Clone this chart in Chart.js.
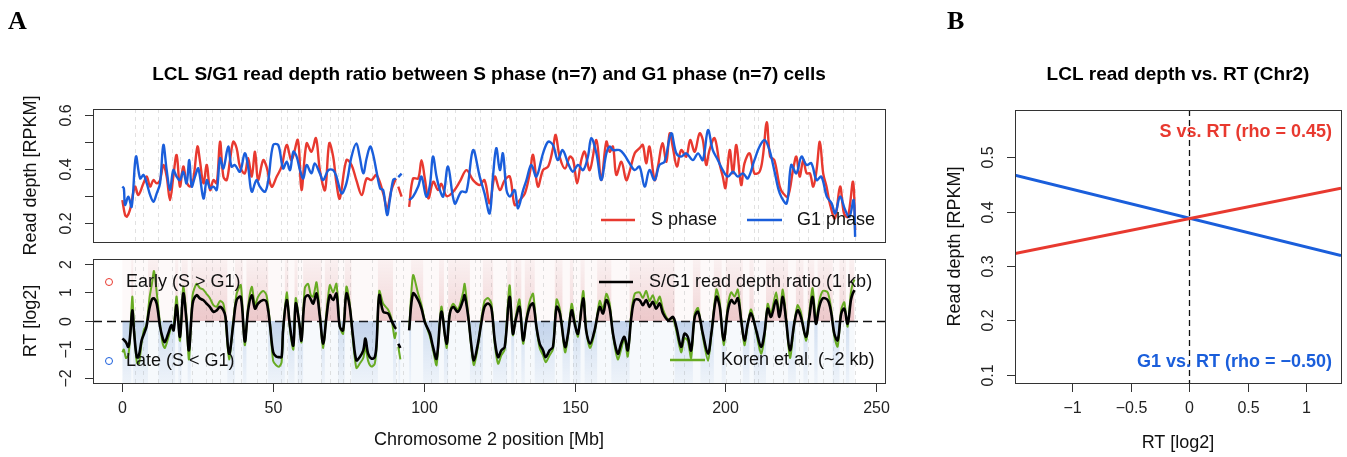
<!DOCTYPE html>
<html>
<head>
<meta charset="utf-8">
<script src="https://cdn.jsdelivr.net/npm/chart.js@4/dist/chart.umd.min.js"></script>
<style>
  body { margin: 0; background: #fff; }
  #wrap { position: relative; width: 1347px; height: 457px; }
  #wrap canvas { position: absolute; left: 0; top: 0; }
</style>
</head>
<body>
<div id="wrap">
  <canvas id="depth-chart" width="1347" height="457"></canvas>
  <canvas id="rt-chart" width="1347" height="457"></canvas>
  <canvas id="corr-chart" width="1347" height="457"></canvas>
</div>
<script>
// ---------- Panel A (top): read depth along chr2, position in Mb ----------
const sPos = [
  0, 0.9, 1.5, 2.5, 4.2, 5.3, 7, 8.1, 9.2, 10.3,
  11.4, 12.5, 13.6, 14.7, 15.8, 16.9, 18, 19.1, 20.2, 21.3,
  22.4, 23.5, 24.9, 25.7, 26.9, 28, 29.1, 30.2, 31.3, 32.4,
  33.5, 34.6, 35.7, 36.8, 37.9, 39, 40.6, 41.7, 42.9, 44,
  45, 46.7, 47.8, 49.5, 51.2, 52.8, 54.5, 56.1, 58.2, 59.4,
  61.1, 62.7, 64.2, 65.5, 67.2, 68.6, 69.9, 71, 72.1, 74.3,
  76, 77.6, 79.4, 81, 82.6, 84.3, 86.5, 87.8, 89.2, 90.7,
  91.1, 91.5, 92.6, 93.5, 95.1, 96.4, 98.1, 99.2, 100.3, 101.5,
  103.1, 104.7, 105.8, 107.5, 109.7, 111.9, 114.1, 116.3, 118.5, 120.1,
  121.8, 123.5, 125.2, 126.8, 128.5, 130.1, 131.8, 133.5, 135.1, 136.2,
  137.8, 139.5, 141.2, 142.8, 143.7, 145, 146.8, 148.4, 149.5, 150.8,
  152.2, 153.3, 155, 157.2, 158.8, 160.5, 161.6, 162.7, 163.8, 165.5,
  167.1, 168.2, 169.9, 171.5, 172.6, 173.7, 174.8, 176.5, 177.6, 179.1,
  180.4, 181.5, 182.6, 183.9, 185.3, 187, 188.3, 189.8, 191.4, 192.5,
  193.6, 194.7, 196.4, 198, 199.1, 200, 201.4, 202.5, 203.6, 205.2,
  206.3, 208, 209.6, 211.3, 212.4, 213.7, 214.8, 216.2, 218, 219.1,
  220.7, 222.4, 223.5, 224.6, 225.8, 226.9, 228, 229.1, 230.2, 231.3,
  232.4, 233.5, 234.6, 236.3, 238, 239.3, 240.6, 242.3, 243
];
const sDepth = [
  0.285, 0.23, 0.224, 0.248, 0.335, 0.304, 0.347, 0.372, 0.335, 0.359,
  0.347, 0.359, 0.415, 0.372, 0.285, 0.372, 0.452, 0.335, 0.409, 0.353,
  0.335, 0.359, 0.483, 0.433, 0.347, 0.415, 0.322, 0.359, 0.347, 0.501,
  0.372, 0.359, 0.433, 0.501, 0.477, 0.409, 0.384, 0.44, 0.372, 0.464,
  0.359, 0.433, 0.409, 0.335, 0.372, 0.409, 0.489, 0.433, 0.507, 0.322,
  0.495, 0.464, 0.514, 0.396, 0.322, 0.495, 0.446, 0.347, 0.291, 0.433,
  0.415, 0.359, 0.304, 0.365, 0.359, 0.378, 0.31, 0.254, 0.322, 0.365,
  null, 0.335, 0.298, null, 0.26, 0.365, 0.365, 0.433, 0.365, 0.291,
  0.353, 0.322, 0.345, 0.30, 0.316, 0.353, 0.396, 0.359, 0.341, 0.359,
  0.273, 0.372, 0.322, 0.359, 0.372, 0.267, 0.285, 0.31, 0.384, 0.452,
  0.335, 0.396, 0.409, 0.477, 0.526, 0.446, 0.402, 0.446, 0.433, 0.347,
  0.433, 0.464, 0.396, 0.507, 0.359, 0.501, 0.464, 0.483, 0.378, 0.427,
  0.359, 0.39, 0.458, 0.477, 0.489, 0.421, 0.483, 0.359, 0.409, 0.495,
  0.427, 0.532, 0.477, 0.409, 0.47, 0.446, 0.507, 0.464, 0.532, 0.507,
  0.415, 0.47, 0.514, 0.421, 0.372, 0.33, 0.47, 0.384, 0.489, 0.341,
  0.421, 0.458, 0.384, 0.39, 0.446, 0.573, 0.446, 0.433, 0.335, 0.31,
  0.298, 0.396, 0.446, 0.372, 0.433, 0.384, 0.384, 0.335, 0.396, 0.501,
  0.384, 0.335, 0.273, 0.217, 0.335, 0.236, 0.223, 0.353, 0.174
];
const g1Pos = [
  0, 0.5, 0.9, 2, 3.1, 4.5, 5.9, 7, 8.1, 9.2,
  10.3, 11.4, 12.5, 13.6, 14.7, 15.8, 16.9, 18, 19.1, 20.2,
  21.3, 22.2, 23, 24.1, 25.2, 26.9, 28, 29.1, 30.2, 31.3,
  32.4, 33.5, 35.1, 36.2, 37.3, 39, 40.6, 41.7, 42.9, 44.5,
  45.6, 47.3, 48.4, 50, 51.7, 53.3, 54.5, 55.6, 56.7, 57.8,
  58.9, 60, 61.1, 62.7, 63.8, 65.5, 66.6, 68.3, 69.9, 71,
  72.7, 74.3, 76, 77.6, 78.7, 79.9, 81, 82.2, 83.2, 84.3,
  85.5, 86.5, 87.8, 88.7, 89.8, 90.7, 91.1, 91.5, 92.6, 93.5,
  95.1, 96.4, 98.1, 99.2, 100.8, 102, 103, 104.2, 105.3, 106.4,
  108, 110.2, 112.4, 114.1, 116.3, 118.5, 120.1, 121.8, 122.9, 124,
  125.2, 126.2, 127.4, 128.5, 130.1, 131.2, 132.9, 134, 135.6, 137.3,
  139.5, 141.2, 142.8, 144.4, 146, 147.8, 149.4, 151.1, 152.8, 154.4,
  155.5, 157.2, 158.8, 160.5, 161.6, 162.7, 164.9, 166.5, 168.2, 169.9,
  171.5, 173.2, 174.8, 176.5, 178.1, 179.8, 182, 183.7, 185.3, 187,
  189.2, 190.9, 192.5, 194.2, 195.8, 197.5, 199.1, 200.8, 202.5, 204.1,
  205.8, 207.4, 209.6, 211.3, 213, 214.6, 216.4, 218, 220.3, 221.8,
  223.5, 225.2, 226.9, 228.5, 230.2, 231.8, 233.6, 235.2, 236.4, 238,
  239.7, 241.1, 242.5, 243
];
const g1Depth = [
  0.335, 0.328, 0.267, 0.298, 0.26, 0.446, 0.365, 0.378, 0.347, 0.304,
  0.279, 0.31, 0.347, 0.489, 0.396, 0.322, 0.396, 0.372, 0.359, 0.39,
  0.347, 0.433, 0.335, 0.372, 0.402, 0.291, 0.359, 0.328, 0.335, 0.322,
  0.44, 0.402, 0.483, 0.409, 0.415, 0.39, 0.458, 0.409, 0.316, 0.359,
  0.335, 0.316, 0.359, 0.489, 0.489, 0.402, 0.427, 0.396, 0.464, 0.446,
  0.396, 0.365, 0.415, 0.384, 0.421, 0.384, 0.359, 0.396, 0.396, 0.372,
  0.31, 0.347, 0.446, 0.495, 0.446, 0.384, 0.44, 0.483, 0.452, 0.39,
  0.328, 0.322, 0.23, 0.285, 0.359, 0.365, null, 0.37, 0.383, null,
  0.285, 0.298, 0.335, 0.372, 0.298, 0.341, 0.446, 0.372, 0.322, 0.298,
  0.409, 0.273, 0.316, 0.316, 0.47, 0.372, 0.31, 0.236, 0.372, 0.477,
  0.396, 0.458, 0.322, 0.298, 0.322, 0.254, 0.322, 0.359, 0.415, 0.372,
  0.458, 0.501, 0.489, 0.433, 0.47, 0.421, 0.39, 0.415, 0.396, 0.446,
  0.514, 0.458, 0.359, 0.458, 0.483, 0.47, 0.47, 0.452, 0.421, 0.396,
  0.409, 0.335, 0.396, 0.359, 0.415, 0.427, 0.532, 0.458, 0.446, 0.458,
  0.433, 0.458, 0.433, 0.544, 0.47, 0.433, 0.396, 0.372, 0.39, 0.372,
  0.384, 0.365, 0.433, 0.483, 0.507, 0.47, 0.384, 0.31, 0.273, 0.415,
  0.384, 0.446, 0.415, 0.421, 0.359, 0.372, 0.298, 0.273, 0.236, 0.298,
  0.248, 0.223, 0.285, 0.149
];

// ---------- Panel A (bottom): replication timing, log2 S/G1 ----------
const rtPos = [
  0, 0.5, 1.2, 2, 2.6, 3.3, 3.9, 4.8, 5.5, 6.4,
  7.2, 8, 9, 9.8, 10.5, 11.4, 12.5, 13.4, 14.1, 15.2,
  16.3, 17, 18, 19.1, 20.2, 21.2, 22.1, 23.3, 24.6, 25.7,
  26.8, 27.9, 29, 30.2, 31.3, 32.4, 33.5, 34.2, 35.4, 36.8,
  37.9, 39.3, 40.6, 41.7, 42.9, 44, 45, 46.7, 47.8, 48.9,
  50, 51, 52, 52.8, 53.3, 54.5, 55.6, 56.7, 57.5, 58.7,
  59.4, 60.5, 61.6, 62.5, 63.3, 64.4, 65.5, 66.6, 67.7, 68.8,
  69.9, 71, 72.1, 73.2, 74.3, 75.4, 76.5, 77.6, 78.7, 79.9,
  80.6, 81.5, 82.6, 83.7, 84.3, 85.2, 86.5, 88.1, 89.2, 90.3,
  90.8, 91.1, 91.5, 92.2, 93.5, 95.1, 96.4, 98.1, 99.2, 100.3,
  102, 103, 104.2, 105.8, 107.5, 108.6, 109.7, 111.3, 113, 113.5,
  114.7, 115.8, 116.6, 117.9, 119, 120.1, 121.3, 122.4, 123.5, 124.6,
  125.7, 126.8, 128.4, 129.5, 130.4, 131.7, 132.9, 134, 135.1, 136.2,
  137.3, 138.4, 139.5, 140.4, 141.7, 142.8, 144, 145.1, 146.8, 147.8,
  149, 150, 151.1, 152.8, 153.8, 155.1, 156.6, 158.3, 159.4, 160.5,
  161.6, 162.7, 164.3, 165.4, 166.5, 167.6, 168.8, 169.9, 171.5, 172.6,
  173.7, 174.8, 175.9, 177, 178.2, 179.3, 181, 182.6, 183.7, 185.3,
  186.4, 187.5, 188.6, 189.8, 190.9, 192.5, 194.2, 195.3, 197, 198.1,
  199.4, 200.8, 201.9, 203, 204.1, 205.2, 206.3, 207.4, 208.5, 210.2,
  211.8, 212.9, 214, 215.1, 216.8, 217.9, 219, 220.1, 221.4, 222.8,
  223.9, 225, 226.7, 227.8, 228.9, 230, 231.1, 232.3, 233.9, 235,
  236.1, 237.2, 238.4, 239.4, 240.5, 241.6, 242.2, 242.8
];
const rtRatio = [
  -0.62, -0.66, -0.75, -0.91, -0.5, 0.37, -0.4, -1.27, -1.2, -0.68,
  -0.45, -0.2, 0.45, 0.75, 0.79, 0.6, -0.2, -0.6, -0.74, -0.45,
  -0.15, -0.33, 0.55, -0.56, 0.96, 0.1, -1.03, 0.6, 0.9, 0.79,
  0.73, 0.61, 0.49, 0.32, 0.37, 0.49, 0.37, 0.14, -1.15, -0.1,
  0.73, 0.84, -0.72, 0.37, 0.9, 0.43, 0.61, 0.73, 0.67, -0.1,
  -1.09, -1.25, -1.27, -1.27, -0.33, 0.73, -0.2, -0.86, 0.61, -0.1,
  -0.68, 0.79, 0.9, 0.75, 0.61, 0.96, 0.14, -0.8, 0.14, 0.9,
  0.73, 0.96, -0.2, -0.33, 0.96, 0.49, -0.56, -1.38, -1.27, -1.03,
  -0.62, -1.15, -1.32, -1.27, -0.8, 0.9, 0.32, 0.26, 0.02, -0.21,
  -0.28, null, -0.8, -0.95, null, -0.33, 0.96, 0.73, 0.43, -0.04,
  -0.45, -0.9, -1.32, 0.32, -0.8, 0.26, 0.49, 0.32, 0.73, 0.9,
  0.14, -0.91, -1.38, -0.8, -0.1, 0.49, 0.61, 0.43, -0.68, -1.27,
  -1.03, -0.91, 0.84, -0.45, 0.02, 0.49, -0.68, 0.02, 0.49, 0.61,
  -0.2, -0.8, -1.03, -1.27, -1.03, -0.91, 0.49, 0.26, -0.91, -0.45,
  0.37, -0.1, -0.45, 0.79, -0.33, -0.8, -0.33, 0.49, 0.26, 0.73,
  0.43, -0.45, -1.15, -0.8, -0.56, -1.03, 0.14, 0.73, 0.73, 0.55,
  0.73, 0.49, 0.67, 0.43, 0.61, 0.26, 0.02, 0.14, -0.21, -0.91,
  -0.45, -0.56, -1.03, 0.14, 0.32, -0.45, -1.15, -0.45, 0.84, 0.49,
  -0.68, 0.37, 0.73, 0.61, 0.79, 0.02, -0.68, -0.1, 0.26, -0.33,
  -0.91, -0.45, 0.43, 0.14, 0.73, 0.14, 0.84, 0.02, -1.03, -0.1,
  0.37, 0.14, -0.56, 0.14, 0.84, -0.1, 0.49, 0.79, 0.73, 0.32,
  -0.45, -0.68, 0.26, 0.43, -0.1, 0.73, 0.96, 1.08
];
const korenRT = [
  -1.1, -1.0, -1.3, -1.2, -0.5, 0.85, -0.3, -1.45, -1.5, -0.75,
  -0.3, -0.15, 0.8, 1.3, 1.75, 1.0, -0.1, -0.8, -0.95, -0.6,
  -0.2, -0.2, 0.85, -0.7, 1.2, 0.2, -1.35, 0.9, 1.3, 1.15,
  1.1, 0.95, 0.8, 0.55, 0.5, 0.7, 0.6, 0.1, -1.35, 0.0,
  0.95, 1.25, -0.85, 0.5, 1.2, 0.55, 0.85, 1.05, 0.9, 0.0,
  -1.4, -1.55, -1.6, -1.45, -0.4, 1.0, -0.3, -1.0, 0.8, -0.1,
  -0.75, 1.15, 1.3, 0.9, 0.85, 1.35, 0.2, -0.95, 0.3, 1.25,
  1.0, 1.3, -0.2, -0.45, 1.2, 0.6, -0.7, -1.65, -1.5, -1.3,
  -0.9, -1.4, -1.6, -1.5, -0.9, 1.05, 0.6, 0.4, 0.1, -0.6,
  -0.4, null, -0.9, -1.35, null, -0.3, 1.6, 0.95, 0.55, 0.0,
  -0.55, -1.0, -1.55, 0.5, -0.95, 0.3, 0.6, 0.4, 1.0, 1.3,
  0.2, -1.0, -1.55, -0.9, 0.0, 0.7, 0.8, 0.6, -0.8, -1.5,
  -1.2, -1.0, 1.25, -0.5, 0.1, 0.75, -0.8, 0.1, 0.7, 0.95,
  -0.2, -0.95, -1.2, -1.45, -1.2, -1.0, 0.75, 0.4, -1.1, -0.5,
  0.6, 0.0, -0.55, 1.05, -0.3, -0.95, -0.4, 0.7, 0.4, 0.95,
  0.6, -0.5, -1.35, -1.0, -0.6, -1.25, 0.3, 0.95, 1.0, 0.8,
  1.05, 0.7, 0.9, 0.6, 0.85, 0.4, 0.05, 0.1, -0.35, -1.1,
  -0.6, -0.7, -1.3, 0.25, 0.45, -0.55, -1.4, -0.5, 1.1, 0.65,
  -0.85, 0.55, 1.0, 0.85, 1.1, 0.1, -0.85, -0.1, 0.4, -0.4,
  -1.15, -0.6, 0.6, 0.25, 1.0, 0.2, 1.1, 0.1, -1.3, -0.1,
  0.55, 0.3, -0.7, 0.25, 1.15, 0.0, 0.7, 1.05, 1.0, 0.45,
  -0.55, -0.9, 0.4, 0.65, -0.2, 1.0, 1.3, 1.45
];

// light dashed vertical marks seen in both A panels (Mb)
const gapMarks = [
  4.2, 7, 11.9, 16.6, 19.1, 23.2, 27.9, 29.6, 32.4, 36.8, 39.5, 44.5, 47.8,
  52.6, 54.5, 58.3, 59.4, 66, 68.8, 71.6, 73.2, 75.4, 82.9, 90.9, 93.1,
  102.5, 107.5, 110.2, 116.9, 118.5, 122.4, 127.3, 130.7, 135.1, 139.5,
  143.9, 149.4, 150.5, 155.5, 159.9, 167.1, 171.5, 176, 182.6, 186.4,
  194.7, 200.2, 204.7, 209.6, 210.7, 215.7, 219, 224.5, 227.3, 232.3,
  235.6, 238.9, 242.8
];

// axis ticks
const chrTicks = [0, 50, 100, 150, 200, 250];
const depthTicks = [0.2, 0.3, 0.4, 0.5, 0.6];
const depthLabels = [0.2, 0.4, 0.6];
const rtTicks = [-2, -1, 0, 1, 2];

// ---------- Panel B: fitted read depth vs RT ----------
const fitRT = [-1.49, 1.30];
const sFit = [0.323, 0.443];
const g1Fit = [0.467, 0.319];
const bXTicks = [-1, -0.5, 0, 0.5, 1];
const bYTicks = [0.1, 0.2, 0.3, 0.4, 0.5];

const RED = '#E8392F';
const BLUE = '#1A5EDB';
const GREEN = '#67AB22';
const FONT = '"Liberation Sans", Arial, Helvetica, sans-serif';
const LAB = '18px ' + FONT;      // axis titles and legend
const TICK = '16px ' + FONT;     // tick labels

function toPts(xs, ys) {
  return xs.map((x, i) => ({ x: x, y: ys[i] }));
}

function fmt(v) {
  return v < 0 ? '\u2212' + Math.abs(v) : String(v);
}

function text(ctx, s, x, y, opts) {
  ctx.save();
  ctx.font = opts.font || LAB;
  ctx.fillStyle = opts.color || '#111';
  ctx.textAlign = opts.align || 'center';
  ctx.textBaseline = 'middle';
  ctx.translate(x, y);
  if (opts.rot) ctx.rotate(opts.rot);
  ctx.fillText(s, 0, 0);
  ctx.restore();
}

// R style box + outside ticks
function drawFrame(chart, yTicks, yLabels, xTicks) {
  const ctx = chart.ctx, a = chart.chartArea;
  const sx = chart.scales.x, sy = chart.scales.y;
  ctx.save();
  ctx.strokeStyle = '#333';
  ctx.lineWidth = 1;
  ctx.strokeRect(Math.round(a.left) + 0.5, Math.round(a.top) + 0.5,
    Math.round(a.right - a.left), Math.round(a.bottom - a.top));
  yTicks.forEach(v => {
    const y = Math.round(sy.getPixelForValue(v)) + 0.5;
    ctx.beginPath();
    ctx.moveTo(a.left - 8, y);
    ctx.lineTo(a.left, y);
    ctx.stroke();
    if (yLabels.includes(v)) {
      text(ctx, fmt(v), a.left - 26, y, { rot: -Math.PI / 2, color: '#222', font: TICK });
    }
  });
  (xTicks || []).forEach(v => {
    const x = Math.round(sx.getPixelForValue(v)) + 0.5;
    ctx.beginPath();
    ctx.moveTo(x, a.bottom);
    ctx.lineTo(x, a.bottom + 9);
    ctx.stroke();
    text(ctx, fmt(v), x, a.bottom + 26, { color: '#222', font: TICK });
  });
  ctx.restore();
}

function drawMarks(chart) {
  const ctx = chart.ctx, a = chart.chartArea, sx = chart.scales.x;
  ctx.save();
  ctx.strokeStyle = 'rgba(200,200,200,0.55)';
  ctx.lineWidth = 1;
  ctx.setLineDash([4, 4]);
  gapMarks.forEach(m => {
    const x = Math.round(sx.getPixelForValue(m)) + 0.5;
    ctx.beginPath();
    ctx.moveTo(x, a.top);
    ctx.lineTo(x, a.bottom);
    ctx.stroke();
  });
  ctx.restore();
}

function legendLine(ctx, x1, x2, y, color) {
  ctx.save();
  ctx.strokeStyle = color;
  ctx.lineWidth = 2.5;
  ctx.beginPath();
  ctx.moveTo(x1, y);
  ctx.lineTo(x2, y);
  ctx.stroke();
  ctx.restore();
}

function baseOptions(pad, xmin, xmax, ymin, ymax) {
  return {
    responsive: false,
    animation: false,
    layout: { padding: pad },
    plugins: { legend: { display: false }, tooltip: { enabled: false } },
    scales: {
      x: { type: 'linear', min: xmin, max: xmax, display: false },
      y: { type: 'linear', min: ymin, max: ymax, display: false }
    },
    elements: { point: { radius: 0 } }
  };
}

// ---------- top chart: read depth ----------
const depthDecor = {
  id: 'depthDecor',
  beforeDatasetsDraw(chart) { drawMarks(chart); },
  afterDraw(chart) {
    const ctx = chart.ctx, a = chart.chartArea;
    drawFrame(chart, depthTicks, depthLabels, null);
    legendLine(ctx, 601, 635, 220, RED);
    text(ctx, 'S phase', 651, 220, { align: 'left' });
    legendLine(ctx, 747, 782, 220, BLUE);
    text(ctx, 'G1 phase', 797, 220, { align: 'left' });
    text(ctx, 'Read depth [RPKM]', 31, (a.top + a.bottom) / 2, { rot: -Math.PI / 2 });
    // figure letters and titles
    text(ctx, 'A', 8, 22, { font: 'bold 26px "Liberation Serif", "Times New Roman", serif', align: 'left', color: '#000' });
    text(ctx, 'B', 947, 22, { font: 'bold 26px "Liberation Serif", "Times New Roman", serif', align: 'left', color: '#000' });
    text(ctx, 'LCL S/G1 read depth ratio between S phase (n=7) and G1 phase (n=7) cells', 489, 75,
      { font: 'bold 19px ' + FONT, color: '#000' });
  }
};

new Chart(document.getElementById('depth-chart'), {
  type: 'line',
  data: {
    datasets: [
      { label: 'G1 phase', data: toPts(g1Pos, g1Depth), borderColor: BLUE, borderWidth: 2.4, tension: 0.35, spanGaps: false },
      { label: 'S phase', data: toPts(sPos, sDepth), borderColor: RED, borderWidth: 2.4, tension: 0.35, spanGaps: false }
    ]
  },
  options: baseOptions({ left: 93, top: 109, right: 462, bottom: 215 }, -9.73, 252.9, 0.13, 0.622),
  plugins: [depthDecor]
});

// ---------- bottom chart: RT ----------
function hazeFill(rgb, up) {
  return function (c) {
    const ch = c.chart, a = ch.chartArea;
    if (!a) return 'transparent';
    const y0 = ch.scales.y.getPixelForValue(0);
    const g = ch.ctx.createLinearGradient(0, y0, 0, up ? a.top : a.bottom);
    g.addColorStop(0, 'rgba(' + rgb + ',0.22)');
    g.addColorStop(1, 'rgba(' + rgb + ',0.05)');
    return g;
  };
}

const rtDecor = {
  id: 'rtDecor',
  beforeDatasetsDraw(chart) {
    // faint single-cell background over the covered region, both signs
    const ctx = chart.ctx, a = chart.chartArea;
    const sx = chart.scales.x, sy = chart.scales.y;
    const x0 = sx.getPixelForValue(rtPos[0]);
    const x1 = sx.getPixelForValue(rtPos[rtPos.length - 1]);
    const y0 = sy.getPixelForValue(0);
    ctx.save();
    ctx.fillStyle = 'rgba(200,90,95,0.04)';
    ctx.fillRect(x0, a.top, x1 - x0, y0 - a.top);
    ctx.fillStyle = 'rgba(80,130,200,0.05)';
    ctx.fillRect(x0, y0, x1 - x0, a.bottom - y0);
    ctx.restore();
    drawMarks(chart);
  },
  afterDatasetDraw(chart, args) {
    if (args.index !== 1) return;
    // dashed zero line
    const ctx = chart.ctx, a = chart.chartArea;
    const y = Math.round(chart.scales.y.getPixelForValue(0)) + 0.5;
    ctx.save();
    ctx.strokeStyle = '#111';
    ctx.lineWidth = 1.5;
    ctx.setLineDash([9, 5]);
    ctx.beginPath();
    ctx.moveTo(a.left, y);
    ctx.lineTo(a.right, y);
    ctx.stroke();
    ctx.restore();
  },
  afterDraw(chart) {
    const ctx = chart.ctx, a = chart.chartArea;
    drawFrame(chart, rtTicks, rtTicks, chrTicks);
    ctx.save();
    ctx.lineWidth = 1;
    ctx.strokeStyle = RED;
    ctx.beginPath(); ctx.arc(109, 282, 3.5, 0, Math.PI * 2); ctx.stroke();
    ctx.strokeStyle = BLUE;
    ctx.beginPath(); ctx.arc(109, 361, 3.5, 0, Math.PI * 2); ctx.stroke();
    ctx.restore();
    text(ctx, 'Early (S > G1)', 126, 282, { align: 'left' });
    text(ctx, 'Late (S < G1)', 126, 361, { align: 'left' });
    legendLine(ctx, 599, 633, 282, '#000');
    text(ctx, 'S/G1 read depth ratio (1 kb)', 649, 282, { align: 'left' });
    legendLine(ctx, 670, 705, 360, GREEN);
    text(ctx, 'Koren et al. (~2 kb)', 721, 360, { align: 'left' });
    text(ctx, 'RT [log2]', 31, (a.top + a.bottom) / 2, { rot: -Math.PI / 2 });
    text(ctx, 'Chromosome 2 position [Mb]', 489, 440, {});
  }
};

new Chart(document.getElementById('rt-chart'), {
  type: 'line',
  data: {
    datasets: [
      { label: 'early cloud', data: toPts(rtPos, rtRatio.map(v => v == null ? null : (v > 0 ? 2.2 : 0))),
        stepped: 'middle', fill: 'origin', borderWidth: 0, backgroundColor: hazeFill('200,90,95', true), order: 10 },
      { label: 'late cloud', data: toPts(rtPos, rtRatio.map(v => v == null ? null : (v < 0 ? -2.2 : 0))),
        stepped: 'middle', fill: 'origin', borderWidth: 0, backgroundColor: hazeFill('80,130,200', false), order: 9 },
      { label: 'Koren et al. (~2 kb)', data: toPts(rtPos, korenRT), borderColor: GREEN, borderWidth: 2, tension: 0.25,
        fill: { target: { value: 0 }, above: 'rgba(200,90,95,0.10)', below: 'rgba(80,130,200,0.10)' }, order: 3 },
      { label: 'S/G1 read depth ratio (1 kb)', data: toPts(rtPos, rtRatio), borderColor: '#000', borderWidth: 2.6,
        tension: 0.35, order: 1 }
    ]
  },
  options: baseOptions({ left: 93, top: 259, right: 462, bottom: 74 }, -9.73, 252.9, -2.175, 2.168),
  plugins: [rtDecor]
});

// ---------- panel B ----------
const corrDecor = {
  id: 'corrDecor',
  beforeDatasetsDraw(chart) {
    const ctx = chart.ctx, a = chart.chartArea;
    const x = Math.round(chart.scales.x.getPixelForValue(0)) + 0.5;
    ctx.save();
    ctx.strokeStyle = '#111';
    ctx.lineWidth = 1.3;
    ctx.setLineDash([6, 4]);
    ctx.beginPath();
    ctx.moveTo(x, a.top);
    ctx.lineTo(x, a.bottom);
    ctx.stroke();
    ctx.restore();
  },
  afterDraw(chart) {
    const ctx = chart.ctx, a = chart.chartArea;
    drawFrame(chart, bYTicks, bYTicks, bXTicks);
    text(ctx, 'S vs. RT (rho = 0.45)', 1332, 132, { font: 'bold 18px ' + FONT, color: RED, align: 'right' });
    text(ctx, 'G1 vs. RT (rho = \u22120.50)', 1332, 362, { font: 'bold 18px ' + FONT, color: BLUE, align: 'right' });
    text(ctx, 'Read depth [RPKM]', 955, (a.top + a.bottom) / 2, { rot: -Math.PI / 2 });
    text(ctx, 'RT [log2]', 1178, 443, {});
    text(ctx, 'LCL read depth vs. RT (Chr2)', 1178, 75, { font: 'bold 19px ' + FONT, color: '#000' });
  }
};

new Chart(document.getElementById('corr-chart'), {
  type: 'line',
  data: {
    datasets: [
      { label: 'S vs. RT', data: toPts(fitRT, sFit), borderColor: RED, borderWidth: 3 },
      { label: 'G1 vs. RT', data: toPts(fitRT, g1Fit), borderColor: BLUE, borderWidth: 3 }
    ]
  },
  options: baseOptions({ left: 1015, top: 110, right: 6, bottom: 74 }, -1.49, 1.30, 0.0845, 0.587),
  plugins: [corrDecor]
});
</script>
</body>
</html>
